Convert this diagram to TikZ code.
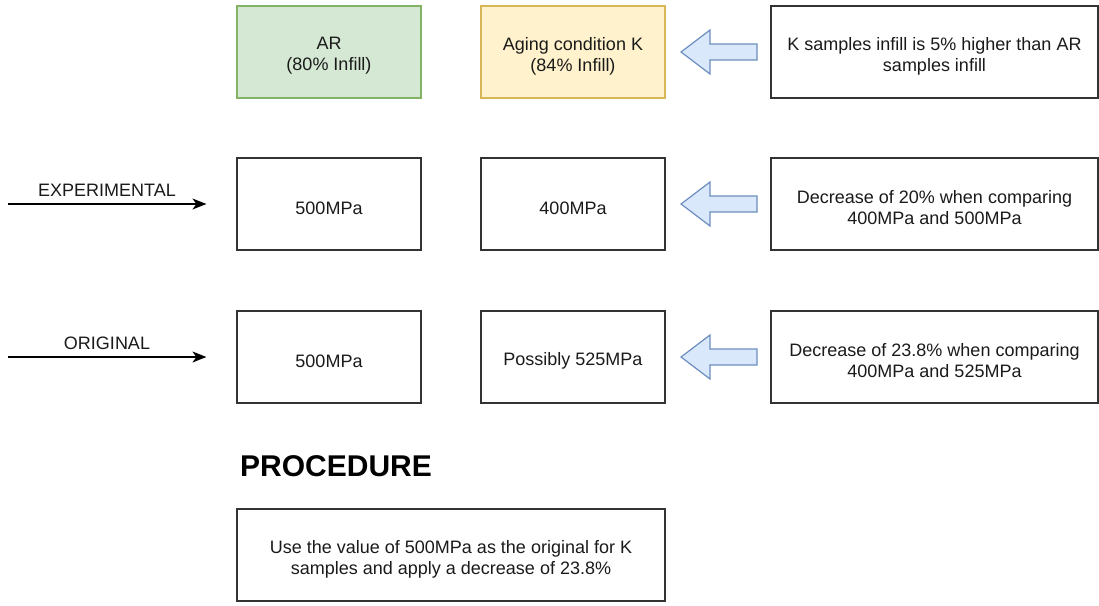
\documentclass[tikz,border=0pt]{standalone}
\usepackage{fontspec}
\setmainfont{Liberation Sans}
\usetikzlibrary{arrows.meta}
\definecolor{gfill}{HTML}{D5E8D4}
\definecolor{gdraw}{HTML}{82B366}
\definecolor{yfill}{HTML}{FFF2CC}
\definecolor{ydraw}{HTML}{D6B656}
\definecolor{bfill}{HTML}{DAE8FC}
\definecolor{bdraw}{HTML}{6C8EBF}
\definecolor{txt}{HTML}{1A1A1A}
\begin{document}
\begin{tikzpicture}[x=1pt,y=-1pt,
  box/.style={draw=black!80,line width=1.2pt,minimum width=184pt,minimum height=92pt,inner sep=0pt},
  wbox/.style={box,minimum width=327pt},
  boxtext/.style={align=center,font=\fontsize{18}{21}\selectfont,text=txt,inner sep=0pt,yshift=-4pt},
  barrow/.style={fill=bfill,draw=bdraw,line width=1.2pt,line join=miter},
  lbl/.style={font=\fontsize{18}{21}\selectfont,text=txt,inner sep=0pt},
  conn/.style={line width=1.2pt,-{Stealth[length=14pt,width=11pt,inset=4pt]}}
]
\useasboundingbox (0,0) rectangle (1099,605);
% row 1
\node[box,fill=gfill,draw=gdraw,label={[boxtext]center:{AR\\(80\% Infill)}}] (ar) at (329,52) {};
\node[box,fill=yfill,draw=ydraw,label={[boxtext]center:{Aging condition K\\(84\% Infill)}}] (k) at (573,52) {};
\node[wbox,label={[boxtext]center:{K samples infill is 5\% higher than AR\\samples infill}}] (n1) at (934.5,52) {};
% row 2
\node[box,label={[boxtext]center:{500MPa}}] (e1) at (329,204) {};
\node[box,label={[boxtext]center:{400MPa}}] (e2) at (573,204) {};
\node[wbox,label={[boxtext]center:{Decrease of 20\% when comparing\\400MPa and 500MPa}}] (n2) at (934.5,204) {};
% row 3
\node[box,label={[boxtext]center:{500MPa}}] (o1) at (329,357) {};
\node[box,label={[boxtext]center:{Possibly 525MPa}}] (o2) at (573,357) {};
\node[wbox,label={[boxtext]center:{Decrease of 23.8\% when comparing\\400MPa and 525MPa}}] (n3) at (934.5,357) {};
% procedure
\node[font=\fontsize{30}{34}\selectfont\bfseries,anchor=west,inner sep=0pt] (proc) at (240,466) {PROCEDURE};
\node[box,minimum width=428pt,label={[boxtext]center:{Use the value of 500MPa as the original for K\\samples and apply a decrease of 23.8\%}}] (p) at (451,555) {};
% block arrows
\foreach \y in {52,204,357}{
  \draw[barrow] (757,\y-8) -- (710,\y-8) -- (710,\y-22) -- (681,\y) -- (710,\y+22) -- (710,\y+8) -- (757,\y+8) -- cycle;
}
% left arrows
\coordinate (s1) at (8,204);
\coordinate (s2) at (8,357);
\draw[conn] (s1) -- ([xshift=-30pt]e1.west);
\draw[conn] (s2) -- ([xshift=-30pt]o1.west);
\node[lbl] (le) at (107,190) {EXPERIMENTAL};
\node[lbl] (lo) at (107,343) {ORIGINAL};
\end{tikzpicture}
\end{document}
